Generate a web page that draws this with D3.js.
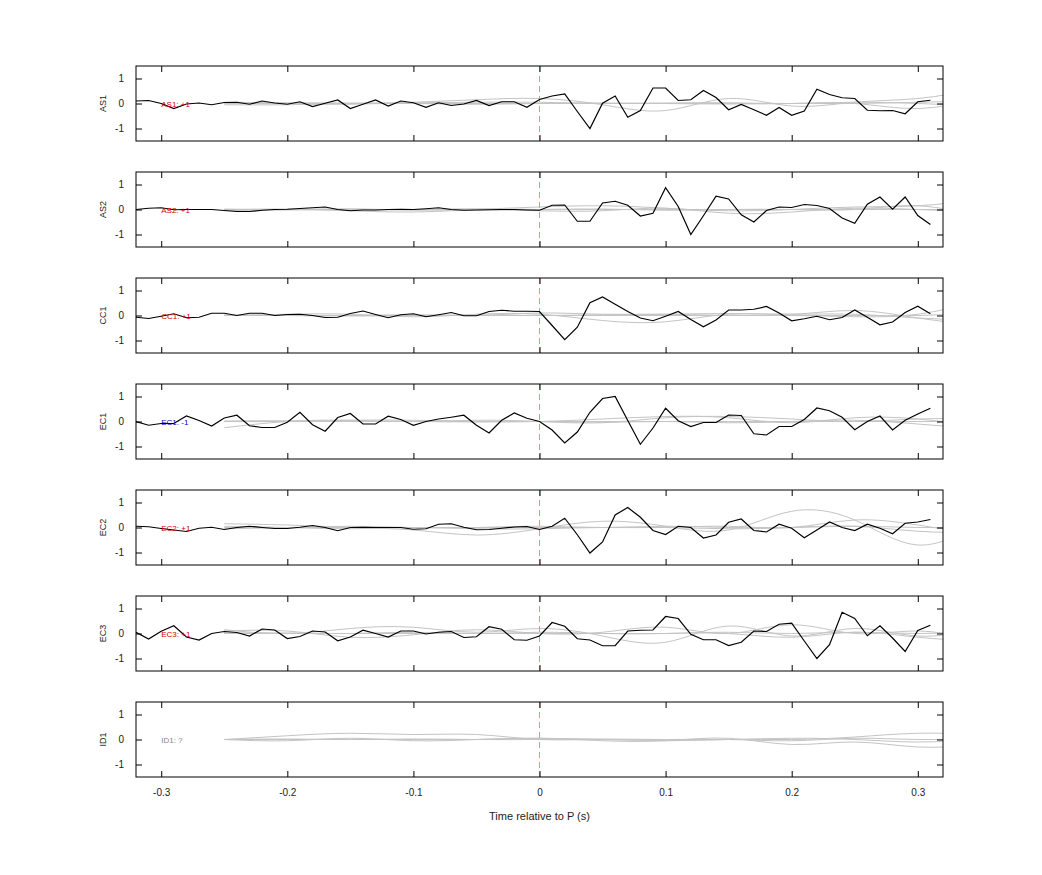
<!DOCTYPE html>
<html>
<head>
<meta charset="utf-8">
<script src="https://cdn.jsdelivr.net/npm/d3@7"></script>
<style>
  body { margin: 0; background: #fff; }
  text { font-family: "Liberation Sans", Arial, sans-serif; }
</style>
</head>
<body>
<script>
// channel names and their polarity labels
var channels = ['AS1', 'AS2', 'CC1', 'EC1', 'EC2', 'EC3', 'ID1'];
var labels   = ['AS1: +1', 'AS2: +1', 'CC1: +1', 'EC1: -1', 'EC2: +1', 'EC3: +1', 'ID1: ?'];
var labelColors = ['#d00000', '#d00000', '#d00000', '#0000cc', '#d00000', '#d00000', '#888888'];

// black traces, sampled every 0.01 s from -0.32 to 0.31
var times = d3.range(64).map(function(i) { return +(-0.32 + i * 0.01).toFixed(2); });
var traceAS1 = [0.1,0.12,0,-0.2,-0.02,0.02,-0.05,0.04,0.05,-0.03,0.1,0.02,-0.03,0.07,-0.12,0.01,0.14,-0.2,-0.03,0.14,-0.1,0.1,0.03,-0.15,0.03,-0.08,-0.02,0.12,-0.08,0.07,0.07,-0.15,
  0.16,0.3,0.38,-0.32,-1.0,0.01,0.3,-0.55,-0.28,0.62,0.62,0.12,0.15,0.52,0.24,-0.25,-0.04,-0.25,-0.47,-0.16,-0.47,-0.3,0.57,0.36,0.23,0.2,-0.27,-0.29,-0.28,-0.41,0.07,0.13];
var traceAS2 = [0,0.05,0.07,-0.01,0,0,0,-0.04,-0.08,-0.08,-0.03,0,0.01,0.04,0.07,0.1,0,-0.05,-0.02,-0.02,0,0.01,0,0.03,0.07,0,-0.03,-0.02,-0.01,0,0,-0.02,
  -0.03,0.17,0.18,-0.47,-0.47,0.26,0.33,0.17,-0.26,-0.15,0.87,0.12,-1.0,-0.25,0.53,0.42,-0.21,-0.5,-0.04,0.1,0.08,0.2,0.16,0.04,-0.34,-0.55,0.21,0.5,0.01,0.5,-0.24,-0.6];
var traceCC1 = [-0.07,-0.12,-0.03,0.07,-0.09,-0.07,0.09,0.09,0,0.09,0.09,0,0.04,0.05,0,-0.08,-0.07,0.08,0.18,0.04,-0.09,0.03,0.07,-0.05,0.03,0.12,-0.01,-0.01,0.16,0.21,0.17,0.17,
  0.16,-0.4,-0.97,-0.47,0.51,0.74,0.45,0.16,-0.1,-0.21,-0.03,0.16,-0.16,-0.45,-0.18,0.22,0.22,0.25,0.36,0.1,-0.21,-0.13,-0.03,-0.17,-0.08,0.22,-0.07,-0.37,-0.26,0.12,0.37,0.07];
var traceEC1 = [0,-0.15,-0.08,-0.08,0.22,0.04,-0.18,0.14,0.25,-0.17,-0.24,-0.24,-0.03,0.37,-0.13,-0.39,0.16,0.32,-0.1,-0.1,0.21,0.08,-0.15,0,0.1,0.17,0.25,-0.15,-0.46,0.05,0.34,0.13,
  0,-0.34,-0.86,-0.42,0.37,0.92,1.0,0.04,-0.91,-0.26,0.53,0.03,-0.2,-0.04,-0.04,0.26,0.24,-0.49,-0.54,-0.2,-0.2,0.08,0.54,0.43,0.17,-0.33,0,0.22,-0.34,0.05,0.3,0.53];
var traceEC2 = [0.05,0.03,-0.04,-0.1,-0.16,-0.03,0.01,-0.08,0,0.05,0,-0.04,-0.04,0.01,0.08,0,-0.13,0,0.01,0,0,0,-0.07,-0.05,0.13,0.15,0.01,-0.09,-0.08,-0.03,0.02,0.04,
  -0.08,0.05,0.37,-0.29,-1.02,-0.58,0.5,0.8,0.41,-0.12,-0.28,0.05,0,-0.42,-0.3,0.21,0.34,-0.12,-0.18,0.13,-0.03,-0.41,-0.1,0.22,0,-0.12,0.13,-0.03,-0.25,0.17,0.22,0.32];
var traceEC3 = [0.05,-0.22,0.09,0.31,-0.14,-0.26,0,0.08,0.04,-0.1,0.18,0.14,-0.2,-0.12,0.1,0.06,-0.29,-0.14,0.13,0,-0.14,0.1,0.1,-0.02,0.05,0.08,-0.16,-0.13,0.27,0.17,-0.25,-0.27,
  -0.1,0.44,0.29,-0.21,-0.26,-0.49,-0.49,0.1,0.13,0.14,0.68,0.6,-0.03,-0.25,-0.25,-0.48,-0.35,0.1,0.08,0.37,0.41,-0.3,-1.0,-0.45,0.85,0.6,-0.09,0.31,-0.18,-0.72,0.12,0.33];
var traces = [traceAS1, traceAS2, traceCC1, traceEC1, traceEC2, traceEC3, null];

// grey smooth templates, knots every 0.05 s from -0.25 to 0.35
var knots = d3.range(13).map(function(i) { return +(-0.25 + i * 0.05).toFixed(2); });
var greyAS1 = [
  [0.02,0.0,-0.03,0.05,0.15,0.2,-0.05,-0.28,0.2,-0.1,0.05,0.2,0.6],
  [-0.05,-0.05,0.0,0.03,0.05,0.05,0.0,0.02,0.03,0.0,0.05,0.0,-0.1],
  [0.05,0.03,0.02,0.0,-0.03,0.0,0.02,0.0,-0.02,0.0,0.0,0.05,0.1],
  [0.0,0.0,0.0,0.0,0.0,0.0,0.0,0.0,0.0,0.0,0.0,-0.2,0.2]];
var greyAS2 = [
  [-0.05,0.0,-0.05,-0.1,0.0,0.1,0.15,0.05,-0.05,0.0,0.1,0.15,0.4],
  [0.0,0.02,0.0,0.0,0.03,0.0,0.0,0.0,0.0,0.0,0.0,0.0,0.0],
  [0.02,-0.02,0.03,-0.03,0.0,-0.05,-0.05,0.05,-0.15,-0.1,0.05,0.0,-0.1],
  [-0.03,0.0,-0.02,0.0,-0.02,0.0,0.02,-0.03,0.0,0.0,0.0,0.15,-0.3]];
var greyCC1 = [
  [0.0,0.05,0.05,-0.05,0.05,0.05,-0.2,-0.25,0.05,0.05,0.2,-0.1,-0.4],
  [0.0,0.0,0.0,0.03,0.0,0.1,0.05,0.05,0.0,0.0,-0.05,0.05,0.6],
  [0.02,0.0,-0.02,0.0,0.02,0.0,0.03,0.05,0.08,0.05,0.05,-0.1,-0.2],
  [0.0,0.0,0.0,0.0,0.0,0.0,0.0,0.0,0.0,0.0,0.0,0.0,0.1]];
var greyEC1 = [
  [-0.25,0.0,0.05,0.0,0.05,0.0,-0.05,0.15,0.2,0.1,0.0,0.1,0.1],
  [0.0,0.0,0.05,0.05,0.0,0.0,0.1,0.2,0.15,-0.05,0.15,0.1,-0.2],
  [0.0,0.0,0.0,0.0,0.0,0.0,0.0,0.0,0.0,0.0,0.0,0.0,0.0],
  [0.02,0.03,0.0,0.0,-0.02,0.0,-0.03,0.0,-0.05,0.0,0.05,-0.1,-0.3]];
var greyEC2 = [
  [0.15,0.1,0.0,-0.1,-0.3,-0.05,0.25,0.05,-0.1,0.65,0.3,-0.7,0.2],
  [0.05,0.0,-0.05,0.0,-0.05,-0.05,0.0,0.0,0.05,0.0,0.3,0.1,-0.3],
  [-0.05,0.0,0.05,0.0,0.0,0.05,0.0,0.05,0.0,0.0,0.05,0.0,0.0],
  [0.0,0.0,0.0,0.0,0.0,0.0,0.0,0.0,-0.05,0.0,0.05,-0.15,-0.2]];
var greyEC3 = [
  [0.15,0.0,0.2,0.25,0.05,0.2,-0.1,-0.35,0.3,-0.1,0.2,-0.1,0.2],
  [0.1,0.1,-0.15,-0.05,0.15,0.0,0.05,0.25,0.0,0.35,0.0,0.1,-0.3],
  [0.0,0.0,0.0,0.0,0.0,0.0,0.0,0.0,0.0,-0.15,0.05,-0.15,-0.3],
  [0.02,0.02,0.0,0.05,0.0,0.05,0.0,0.0,0.05,0.0,0.05,0.0,0.1]];
var greyID1 = [
  [0.0,0.15,0.25,0.2,0.2,0.0,0.0,-0.05,0.0,0.0,0.1,0.25,0.2],
  [0.0,-0.05,0.05,-0.05,0.0,0.05,-0.05,-0.05,0.05,-0.2,-0.1,-0.3,-0.2],
  [0.0,0.0,0.0,0.0,0.0,0.05,0.0,-0.02,0.0,0.05,0.0,-0.1,0.0],
  [0.0,0.02,0.0,0.02,0.0,0.0,0.02,0.0,0.0,-0.05,0.05,0.0,0.05]];
var greys = [greyAS1, greyAS2, greyCC1, greyEC1, greyEC2, greyEC3, greyID1];

var xTicks = [-0.3, -0.2, -0.1, 0, 0.1, 0.2, 0.3];
var yTicks = [-1, 0, 1];

var W = 1042, H = 875;
var left = 136, right = 943, top0 = 66, ph = 75, pitch = 106;

var svg = d3.select('body').append('svg').attr('width', W).attr('height', H);
var x = d3.scaleLinear().domain([-0.32, 0.32]).range([left, right]);
var fmt = function(d) { return String(d); };

svg.append('defs').append('clipPath').attr('id', 'clip')
  .append('rect').attr('x', left).attr('y', 0).attr('width', right - left).attr('height', ph);

channels.forEach(function(ch, k) {
  var g = svg.append('g').attr('transform', 'translate(0,' + (top0 + k * pitch) + ')');
  var y = d3.scaleLinear().domain([-1.5, 1.5]).range([ph, 0]);
  var plot = g.append('g').attr('clip-path', 'url(#clip)');

  var smooth = d3.line().x(function(d, i) { return x(knots[i]); }).y(function(d) { return y(d); })
    .curve(d3.curveNatural);
  greys[k].forEach(function(s) {
    plot.append('path').attr('d', smooth(s))
      .attr('fill', 'none').attr('stroke', '#c4c4c4').attr('stroke-width', 1);
  });

  plot.append('line').attr('x1', x(0)).attr('x2', x(0)).attr('y1', 0).attr('y2', ph)
    .attr('stroke', '#e89090').attr('stroke-dasharray', '6,4');

  if (traces[k]) {
    var line = d3.line().x(function(d, i) { return x(times[i]); }).y(function(d) { return y(d); });
    plot.append('path').attr('d', line(traces[k]))
      .attr('fill', 'none').attr('stroke', '#000').attr('stroke-width', 1.2);
  }

  g.append('text').attr('x', x(-0.3)).attr('y', y(0) + 3)
    .attr('font-size', 8).attr('fill', labelColors[k]).text(labels[k]);

  // axes with inward ticks on all four sides
  var ax = function(a) { a.selectAll('.domain').remove(); a.selectAll('line').attr('stroke', '#000'); };
  g.append('g').attr('transform', 'translate(0,' + ph + ')')
    .call(d3.axisBottom(x).tickValues(xTicks).tickSize(-6).tickPadding(12)
      .tickFormat(k === channels.length - 1 ? fmt : ''))
    .call(ax).selectAll('text').attr('font-size', 10).attr('fill', '#222');
  g.append('g').call(d3.axisTop(x).tickValues(xTicks).tickSize(-6).tickFormat('')).call(ax);
  g.append('g').attr('transform', 'translate(' + left + ',0)')
    .call(d3.axisLeft(y).tickValues(yTicks).tickSize(-6).tickPadding(12).tickFormat(fmt)).call(ax)
    .selectAll('text').attr('font-size', 10).attr('fill', '#222');
  g.append('g').attr('transform', 'translate(' + right + ',0)')
    .call(d3.axisRight(y).tickValues(yTicks).tickSize(-6).tickFormat('')).call(ax);
  g.append('rect').attr('x', left).attr('y', 0).attr('width', right - left).attr('height', ph)
    .attr('fill', 'none').attr('stroke', '#000').attr('stroke-width', 1);

  g.append('text').attr('transform', 'translate(106,' + y(0) + ') rotate(-90)')
    .attr('text-anchor', 'middle').attr('font-size', 9).attr('fill', '#222').text(ch);
});

svg.append('text').attr('x', (left + right) / 2).attr('y', 820).attr('text-anchor', 'middle')
  .attr('font-size', 11).attr('fill', '#222').text('Time relative to P (s)');
</script>
</body>
</html>
